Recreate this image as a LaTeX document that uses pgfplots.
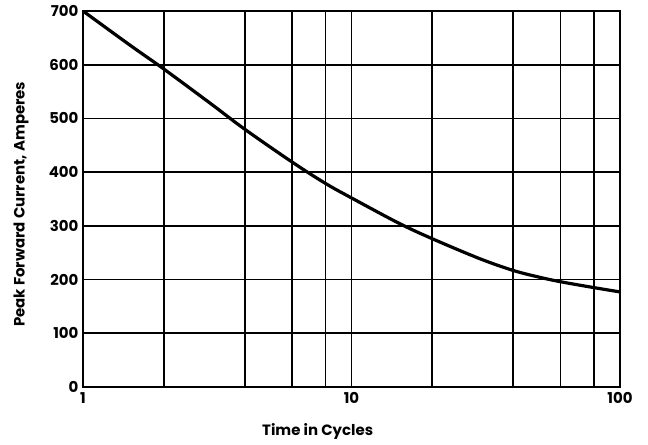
\documentclass[border=0pt]{standalone}
\usepackage{fontspec}
\setmainfont{Poppins}
\usepackage{pgfplots}
\pgfplotsset{compat=1.18}
\begin{document}
\begin{tikzpicture}
\begin{axis}[
  scale only axis,
  width=537bp, height=376bp,
  xmode=log,
  xmin=1, xmax=100,
  ymin=0, ymax=700,
  xtick={1,10,100},
  xticklabels={1,10,100},
  minor xtick={2,4,6,8,20,40,60,80},
  ytick={0,100,...,700},
  grid=both,
  major grid style={black, line width=1.8bp},
  minor grid style={black, line width=1.8bp},
  axis line style={black, line width=2bp},
  major tick length=0pt, minor tick length=0pt,
  /pgf/number format/assume math mode=true,
  tick label style={font=\fontsize{15}{17}\selectfont\bfseries},
  xticklabel style={yshift=-2bp},
  yticklabel style={xshift=-1bp},
  xlabel={Time in Cycles},
  ylabel={Peak Forward Current, Amperes},
  label style={font=\fontsize{15}{17}\selectfont\bfseries},
  xlabel style={at={(axis description cs:0.437,-0.118)}, anchor=center},
  ylabel style={at={(axis description cs:-0.1155,0.486)}, anchor=center},
  clip=true,
]
\addplot[black, line width=3.2bp, smooth, tension=0.55] coordinates {
  (1,700) (1.5,636) (2,592) (3,527) (4,480) (6,419) (8,379) (10,352)
  (15,305) (20,276) (30,239) (40,217) (50,204.5) (60,196) (80,185) (100,177)
};
\end{axis}
\pgfresetboundingbox
\path ([shift={(-83bp,-57.3bp)}]current axis.south west) rectangle ([shift={(28bp,11bp)}]current axis.north east);
\end{tikzpicture}
\end{document}
